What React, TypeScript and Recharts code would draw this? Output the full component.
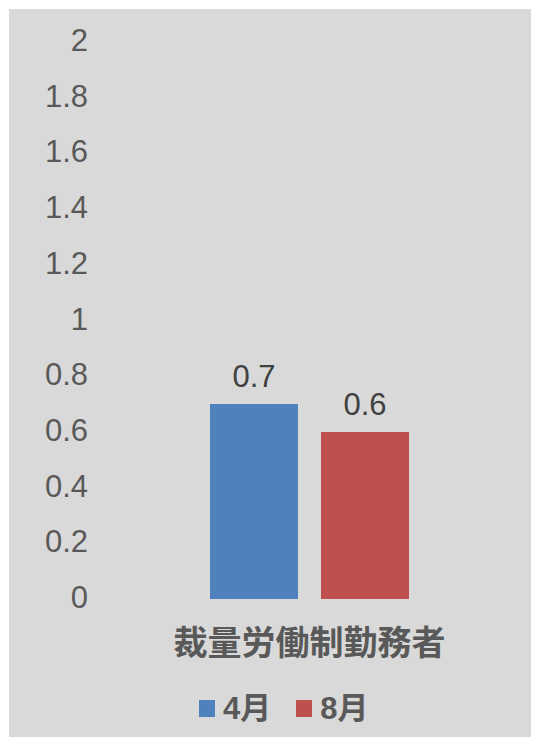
import { BarChart, Bar, XAxis, YAxis, Legend, LabelList } from "recharts";

const categories = ["裁量労働制勤務者"];
const seriesNames = ["4月", "8月"];
const aprilValues = [0.7];
const augustValues = [0.6];
const yTicks = [0, 0.2, 0.4, 0.6, 0.8, 1, 1.2, 1.4, 1.6, 1.8, 2];

const COLORS = ["#4f81bd", "#c0504d"];
const FONT = '"Liberation Sans", Arial, "Noto Sans CJK JP", sans-serif';

const chartData = categories.map((name, i) => ({
  name,
  april: aprilValues[i],
  august: augustValues[i],
}));

const CategoryTick = ({ x, y, payload }: any) => (
  <text
    x={x}
    y={y + 44}
    dy="0.36em"
    textAnchor="middle"
    fill="#595959"
    fontSize={34}
    fontWeight="bold"
    fontFamily='"Noto Sans CJK JP", sans-serif'
  >
    {payload.value}
  </text>
);

const LegendContent = () => (
  <div
    style={{
      display: "flex",
      alignItems: "center",
      justifyContent: "flex-start",
      height: 59,
      paddingLeft: 190,
      boxSizing: "border-box",
    }}
  >
    {seriesNames.map((s, i) => (
      <span
        key={s}
        style={{
          display: "flex",
          alignItems: "center",
          marginRight: i === 0 ? 25 : 0,
        }}
      >
        <span
          style={{
            display: "inline-block",
            width: 16,
            height: 17,
            marginRight: 8,
            backgroundColor: COLORS[i],
          }}
        />
        <span
          style={{
            fontSize: 31,
            lineHeight: "34px",
            fontWeight: "bold",
            color: "#595959",
            fontFamily: '"Liberation Sans", "Noto Sans CJK JP", sans-serif',
          }}
        >
          {s}
        </span>
      </span>
    ))}
  </div>
);

export default function App() {
  return (
    <div
      style={{
        position: "relative",
        left: 1,
        top: 1,
        width: 522,
        height: 729,
        background: "#d9d9d9",
      }}
    >
      <BarChart
        width={522}
        height={729}
        data={chartData}
        margin={{ top: 33, right: 7, left: 0, bottom: 0 }}
        barSize={88}
        barGap={23}
      >
        <XAxis
          dataKey="name"
          axisLine={false}
          tickLine={false}
          tickSize={0}
          tickMargin={0}
          height={80}
          tick={<CategoryTick />}
        />
        <YAxis
          domain={[0, 2]}
          ticks={yTicks}
          axisLine={false}
          tickLine={false}
          tickSize={0}
          tickMargin={7}
          width={86}
          interval={0}
          tick={{ fill: "#595959", fontSize: 31, fontFamily: FONT, dy: -2 }}
        />
        <Legend verticalAlign="bottom" height={59} content={<LegendContent />} />
        <Bar dataKey="april" name={seriesNames[0]} fill={COLORS[0]} isAnimationActive={false}>
          <LabelList
            dataKey="april"
            position="top"
            offset={17}
            fill="#404040"
            fontSize={31}
            fontFamily={FONT}
          />
        </Bar>
        <Bar dataKey="august" name={seriesNames[1]} fill={COLORS[1]} isAnimationActive={false}>
          <LabelList
            dataKey="august"
            position="top"
            offset={17}
            fill="#404040"
            fontSize={31}
            fontFamily={FONT}
          />
        </Bar>
      </BarChart>
    </div>
  );
}
